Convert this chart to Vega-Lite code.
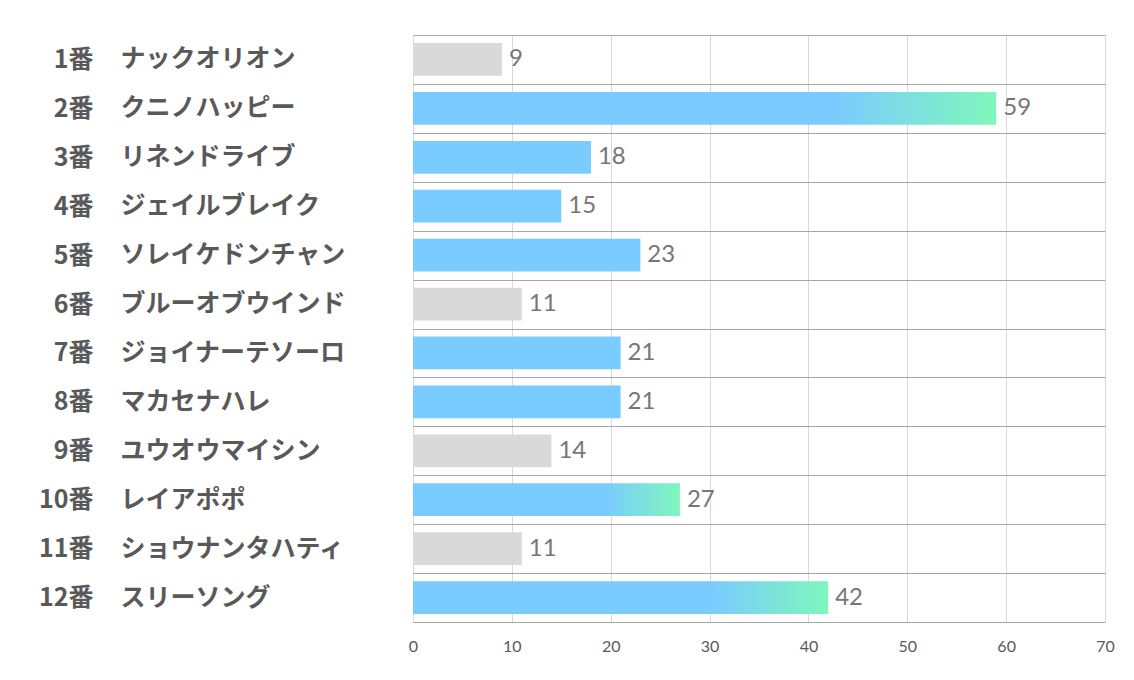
{
  "$schema": "https://vega.github.io/schema/vega-lite/v6.json",
  "autosize": {"type": "none"},
  "width": 692,
  "height": 587,
  "padding": {"left": 413, "top": 35, "right": 29, "bottom": 58},
  "background": "white",
  "config": {"view": {"stroke": null}},
  "data": {
    "values": [
      {"horse": "1番　ナックオリオン", "value": 9, "type": "gray"},
      {"horse": "2番　クニノハッピー", "value": 59, "type": "grad"},
      {"horse": "3番　リネンドライブ", "value": 18, "type": "blue"},
      {"horse": "4番　ジェイルブレイク", "value": 15, "type": "blue"},
      {"horse": "5番　ソレイケドンチャン", "value": 23, "type": "blue"},
      {"horse": "6番　ブルーオブウインド", "value": 11, "type": "gray"},
      {"horse": "7番　ジョイナーテソーロ", "value": 21, "type": "blue"},
      {"horse": "8番　マカセナハレ", "value": 21, "type": "blue"},
      {"horse": "9番　ユウオウマイシン", "value": 14, "type": "gray"},
      {"horse": "10番　レイアポポ", "value": 27, "type": "grad"},
      {"horse": "11番　ショウナンタハティ", "value": 11, "type": "gray"},
      {"horse": "12番　スリーソング", "value": 42, "type": "grad"}
    ]
  },
  "resolve": {"axis": {"y": "independent"}},
  "layer": [
    {
      "transform": [{"filter": "datum.type !== 'grad'"}],
      "mark": {"type": "bar", "height": {"band": 0.67}},
      "encoding": {
        "y": {
          "field": "horse", "type": "nominal",
          "scale": {
            "domain": ["1番　ナックオリオン", "2番　クニノハッピー", "3番　リネンドライブ", "4番　ジェイルブレイク", "5番　ソレイケドンチャン", "6番　ブルーオブウインド", "7番　ジョイナーテソーロ", "8番　マカセナハレ", "9番　ユウオウマイシン", "10番　レイアポポ", "11番　ショウナンタハティ", "12番　スリーソング"],
            "paddingInner": 0, "paddingOuter": 0
          },
          "axis": {
            "title": null, "orient": "left", "domain": false, "ticks": false, "tickSize": 0,
            "grid": true, "tickBand": "extent", "gridColor": "#a6a6a6", "gridWidth": 1,
            "labelAlign": "right", "labelPadding": 320, "labelBaseline": "middle",
            "labelFont": "Noto Sans CJK JP", "labelFontSize": 25, "labelFontWeight": "bold",
            "labelColor": "#595959", "labelLimit": 0,
            "labelExpr": "split(datum.label, '　')[0]"
          }
        },
        "x": {
          "field": "value", "type": "quantitative",
          "scale": {"domain": [0, 70], "nice": false},
          "axis": {
            "title": null, "values": [0, 10, 20, 30, 40, 50, 60, 70],
            "domain": false, "ticks": false, "grid": true, "gridColor": "#d9d9d9",
            "labelFlush": false, "labelOverlap": false,
            "labelFont": "Lato", "labelFontSize": 16, "labelColor": "#595959", "labelPadding": 16
          }
        },
        "color": {
          "field": "type", "type": "nominal", "legend": null,
          "scale": {"domain": ["gray", "blue"], "range": ["#d9d9d9", "#7acbff"]}
        }
      }
    },
    {
      "transform": [{"filter": "datum.type === 'grad'"}],
      "mark": {
        "type": "bar", "height": {"band": 0.67},
        "color": {
          "gradient": "linear", "x1": 0, "x2": 1, "y1": 0, "y2": 0,
          "stops": [
            {"offset": 0, "color": "#7acbff"},
            {"offset": 0.72, "color": "#7acbff"},
            {"offset": 1, "color": "#7ff7bb"}
          ]
        }
      },
      "encoding": {
        "y": {"field": "horse", "type": "nominal", "axis": null},
        "x": {"field": "value", "type": "quantitative"}
      }
    },
    {
      "mark": {"type": "text", "align": "left", "baseline": "middle", "dx": 7, "font": "Lato", "fontSize": 24, "color": "#767676"},
      "encoding": {
        "y": {
          "field": "horse", "type": "nominal",
          "axis": {
            "title": null, "orient": "left", "domain": false, "ticks": false, "tickSize": 0, "grid": false,
            "labelAlign": "left", "labelPadding": 293, "labelBaseline": "middle",
            "labelFont": "Noto Sans CJK JP", "labelFontSize": 25, "labelFontWeight": "bold",
            "labelColor": "#595959", "labelLimit": 0,
            "labelExpr": "split(datum.label, '　')[1]"
          }
        },
        "x": {"field": "value", "type": "quantitative"},
        "text": {"field": "value", "type": "quantitative"}
      }
    }
  ]
}
